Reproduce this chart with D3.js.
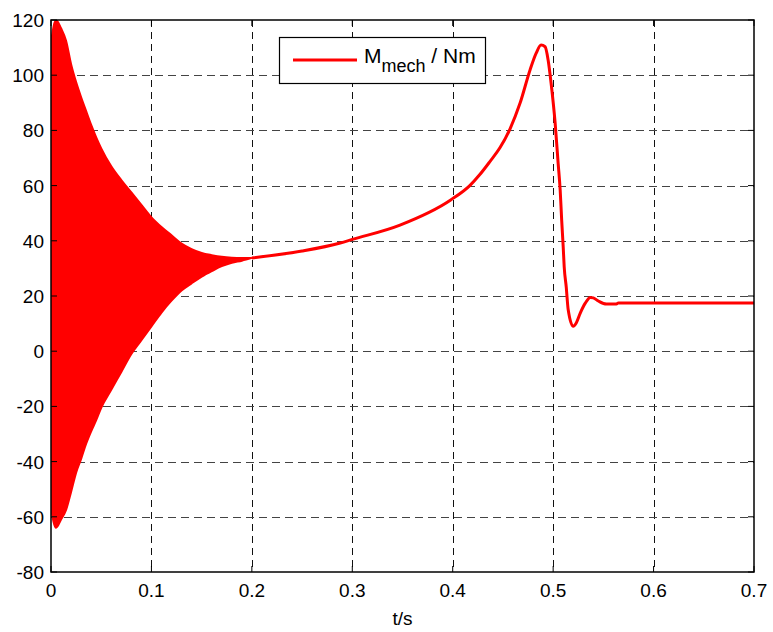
<!DOCTYPE html>
<html>
<head>
<meta charset="utf-8">
<script src="https://cdn.jsdelivr.net/npm/d3@7"></script>
<style>
  body { margin: 0; background: #fff; }
  text { font-family: Arial, "Liberation Sans", sans-serif; }
</style>
</head>
<body>
<div id="viz"></div>
<script>
// oscillating start-up part: envelope of the torque (upper / lower peaks)
const envTime  = [0, 0.005, 0.01, 0.015, 0.02, 0.025, 0.03, 0.035, 0.04, 0.045, 0.05,
                  0.06, 0.07, 0.08, 0.09, 0.1, 0.11, 0.12, 0.13, 0.14, 0.15,
                  0.16, 0.17, 0.18, 0.19, 0.2]
const envUpper = [112, 120, 117, 112.5, 104, 97.5, 92, 87, 82, 77.5, 73.5,
                  67, 62, 57.5, 53, 48.5, 45, 42, 39, 37, 35.6,
                  34.8, 34.2, 33.9, 33.8, 33.8]
const envLower = [-57, -64, -61, -57.5, -51, -44, -39, -33.5, -29, -25, -20.5,
                  -14, -7.5, -1, 4, 9, 14, 18.3, 22, 24.6, 27,
                  29, 30.8, 32, 32.8, 33.8]

// smooth part after the oscillation has died out
const lineTime  = [0.2, 0.25, 0.288, 0.3, 0.3475, 0.398, 0.417, 0.427, 0.437, 0.447,
                   0.457, 0.467, 0.477, 0.483, 0.488, 0.492, 0.495, 0.498, 0.502, 0.505,
                   0.507, 0.5085, 0.51, 0.511, 0.513, 0.515, 0.52, 0.523, 0.527, 0.532,
                   0.537, 0.54, 0.545, 0.553, 0.563, 0.565, 0.7]
const lineValue = [33.8, 36.3, 39.2, 40.5, 45.7, 54.8, 60, 64, 68.7, 73.7,
                   80.5, 89.8, 101.9, 107.9, 110.9, 110.3, 105.5, 97, 82.6, 68,
                   58.4, 47.5, 37.9, 30.6, 23.4, 15, 9, 10.2, 13.8, 17.4,
                   19.5, 19.3, 18.2, 17.1, 17.1, 17.5, 17.5]

const xTicks = [0, 0.1, 0.2, 0.3, 0.4, 0.5, 0.6, 0.7]
const yTicks = [-80, -60, -40, -20, 0, 20, 40, 60, 80, 100, 120]

const width = 773
const height = 632
const plotL = 51, plotR = 754, plotT = 20, plotB = 572

const svg = d3.select("#viz").append("svg")
    .attr("width", width)
    .attr("height", height)

svg.append("rect")
    .attr("width", width)
    .attr("height", height)
    .attr("fill", "#fff")

const x = d3.scaleLinear().domain([0, 0.7]).range([plotL, plotR])
const y = d3.scaleLinear().domain([-80, 120]).range([plotB, plotT])

// grid
svg.append("g").selectAll("line")
    .data(xTicks.slice(1, -1))
    .join("line")
    .attr("x1", d => Math.round(x(d)) + 0.5)
    .attr("x2", d => Math.round(x(d)) + 0.5)
    .attr("y1", plotT)
    .attr("y2", plotB)
    .attr("stroke", "#111")
    .attr("stroke-dasharray", "7,5")

svg.append("g").selectAll("line")
    .data(yTicks.slice(1, -1))
    .join("line")
    .attr("x1", plotL)
    .attr("x2", plotR)
    .attr("y1", d => Math.round(y(d)) + 0.5)
    .attr("y2", d => Math.round(y(d)) + 0.5)
    .attr("stroke", "#444")
    .attr("stroke-dasharray", "8,5")

// data
svg.append("clipPath").attr("id", "clip")
    .append("rect")
    .attr("x", plotL).attr("y", plotT)
    .attr("width", plotR - plotL).attr("height", plotB - plotT)

const envData = envTime.map((t, i) => ({ t: t, hi: envUpper[i], lo: envLower[i] }))
const lineData = lineTime.map((t, i) => ({ t: t, v: lineValue[i] }))

const plot = svg.append("g").attr("clip-path", "url(#clip)")

plot.append("path")
    .datum(envData)
    .attr("d", d3.area()
        .x(d => x(d.t))
        .y0(d => y(d.lo))
        .y1(d => y(d.hi))
        .curve(d3.curveMonotoneX))
    .attr("fill", "#ff0000")
    .attr("stroke", "#ff0000")
    .attr("stroke-width", 2)

plot.append("path")
    .datum(lineData)
    .attr("d", d3.line()
        .x(d => x(d.t))
        .y(d => y(d.v))
        .curve(d3.curveMonotoneX))
    .attr("fill", "none")
    .attr("stroke", "#ff0000")
    .attr("stroke-width", 3)
    .attr("stroke-linejoin", "round")

// axes box with inward ticks
const axes = svg.append("g").attr("stroke", "#000")
axes.append("rect")
    .attr("x", plotL).attr("y", plotT)
    .attr("width", plotR - plotL).attr("height", plotB - plotT)
    .attr("fill", "none")
    .attr("stroke-width", 1.5)

xTicks.forEach(d => {
    axes.append("line").attr("x1", x(d)).attr("x2", x(d)).attr("y1", plotB).attr("y2", plotB - 6)
    axes.append("line").attr("x1", x(d)).attr("x2", x(d)).attr("y1", plotT).attr("y2", plotT + 6)
})
yTicks.forEach(d => {
    axes.append("line").attr("x1", plotL).attr("x2", plotL + 6).attr("y1", y(d)).attr("y2", y(d))
    axes.append("line").attr("x1", plotR).attr("x2", plotR - 6).attr("y1", y(d)).attr("y2", y(d))
})

// tick labels
svg.append("g").selectAll("text")
    .data(xTicks)
    .join("text")
    .attr("x", d => x(d))
    .attr("y", plotB + 25)
    .attr("text-anchor", "middle")
    .attr("font-size", 19)
    .text(d => d)

svg.append("g").selectAll("text")
    .data(yTicks)
    .join("text")
    .attr("x", plotL - 7)
    .attr("y", d => y(d) + 7)
    .attr("text-anchor", "end")
    .attr("font-size", 19)
    .text(d => d)

svg.append("text")
    .attr("x", (plotL + plotR) / 2)
    .attr("y", 625)
    .attr("text-anchor", "middle")
    .attr("font-size", 19)
    .text("t/s")

// legend
const legend = svg.append("g")
legend.append("rect")
    .attr("x", 279.5).attr("y", 37.5)
    .attr("width", 206).attr("height", 46)
    .attr("fill", "#fff")
    .attr("stroke", "#000")
    .attr("stroke-width", 1.2)
legend.append("line")
    .attr("x1", 293).attr("x2", 357)
    .attr("y1", 60).attr("y2", 60)
    .attr("stroke", "#ff0000")
    .attr("stroke-width", 3)
const lt = legend.append("text")
    .attr("x", 364)
    .attr("y", 63)
    .attr("font-size", 21)
lt.append("tspan").text("M")
lt.append("tspan").attr("dy", 9).attr("font-size", 18).text("mech")
lt.append("tspan").attr("dy", -9).text(" / Nm")
</script>
</body>
</html>
